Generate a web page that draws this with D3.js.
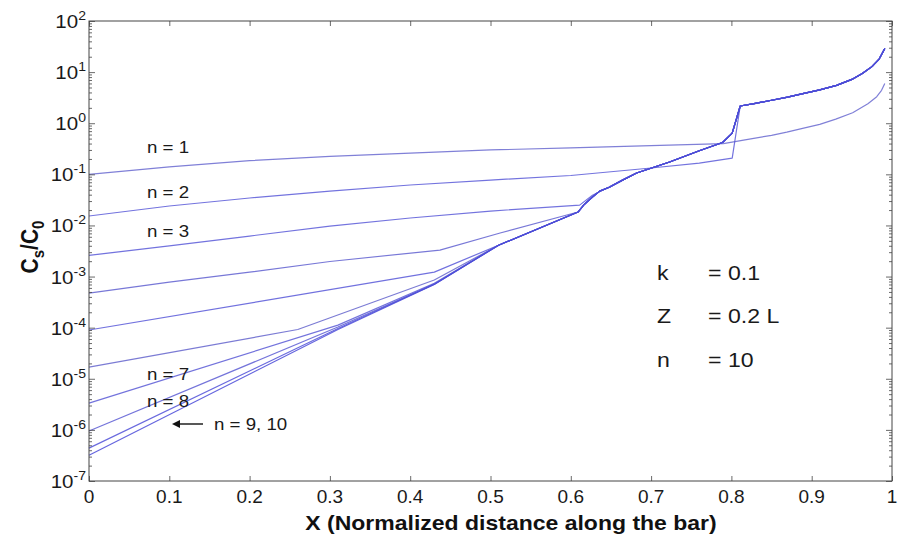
<!DOCTYPE html>
<html><head><meta charset="utf-8">
<script src="https://cdn.jsdelivr.net/npm/d3@7"></script>
<style>html,body{margin:0;padding:0;background:#fff;}svg{display:block;}</style>
</head><body>
<svg id="c" width="904" height="538"></svg>
<script>
// ---- data ----
const xTickValues = [0,0.1,0.2,0.3,0.4,0.5,0.6,0.7,0.8,0.9,1];
const xTickLabels = ["0","0.1","0.2","0.3","0.4","0.5","0.6","0.7","0.8","0.9","1"];
const yTickExponents = [-7,-6,-5,-4,-3,-2,-1,0,1,2];
const seriesNames = ["n = 1","n = 2","n = 3","n = 4","n = 5","n = 6","n = 7","n = 8","n = 9","n = 10"];

// common tail shared by the later passes
const ultimate = [[0.51,0.0041],[0.609,0.0183],[0.617,0.026],[0.627,0.036],[0.636,0.047],[0.648,0.056],[0.665,0.078],[0.682,0.106],[0.723,0.174],[0.76,0.29],[0.789,0.42],[0.801,0.64],[0.811,2.17],[0.83,2.45],[0.847,2.75],[0.87,3.25],[0.889,3.8],[0.91,4.5],[0.931,5.5],[0.95,7.2],[0.963,9.4],[0.975,12.8],[0.984,18],[0.991,29]];
const n1 = [[0,0.1],[0.1,0.14],[0.2,0.185],[0.3,0.225],[0.4,0.26],[0.5,0.30],[0.6,0.33],[0.7,0.365],[0.79,0.40],[0.826,0.5],[0.85,0.58],[0.869,0.67],[0.89,0.8],[0.91,0.95],[0.93,1.2],[0.951,1.6],[0.97,2.4],[0.981,3.3],[0.987,4.4],[0.991,6.0]];
const n2 = [[0,0.0153],[0.1,0.024],[0.2,0.0344],[0.3,0.0471],[0.4,0.0618],[0.5,0.0773],[0.6,0.0948],[0.7,0.133],[0.76,0.166],[0.801,0.208]];
const n3 = [[0,0.0026],[0.1,0.004],[0.2,0.0062],[0.3,0.0097],[0.4,0.014],[0.5,0.0191],[0.611,0.025],[0.627,0.039],[0.648,0.057]];
const n4 = [[0,0.000475],[0.1,0.00078],[0.2,0.00122],[0.3,0.00197],[0.437,0.0033],[0.512,0.0071],[0.609,0.0183]];
const n5 = [[0,9e-5],[0.43,0.00122]];
const n6 = [[0,1.69e-5],[0.26,9.2e-5],[0.43,0.000855]];
const n7 = [[0,3.34e-6],[0.31,0.000112],[0.43,0.00074]];
const n8 = [[0,9.5e-7],[0.31,0.000103],[0.43,0.00071]];
const n9 = [[0,4.4e-7],[0.31,9.6e-5],[0.43,0.00071]];
const n10 = [[0,3.2e-7],[0.31,9.2e-5],[0.43,0.0007]];
const heads = [n1,n2,n3,n4,n5,n6,n7,n8,n9,n10];
const params = [["k","= 0.1"],["Z","= 0.2 L"],["n","= 10"]];

// ---- layout ----
const svg = d3.select("#c");
const L=89, R=892, T=21, B=481;
const x = d3.scaleLinear().domain([0,1]).range([L,R]);
const y = d3.scaleLog().domain([1e-7,1e2]).range([B,T]);
const FONT = "'Liberation Sans', Arial, sans-serif";
const axisCol = "#444";

function txt(str, px, py, size, opts={}) {
  return svg.append("text")
    .attr("transform", `translate(${px},${py}) scale(${opts.sx||1.1},1)`)
    .attr("font-family", FONT).attr("font-size", size)
    .attr("fill", opts.fill||"#1a1a1a")
    .attr("font-weight", opts.weight||"normal")
    .attr("text-anchor", opts.anchor||"start")
    .text(str);
}

// curves
const curves = heads.map((h,i) => {
  if (i === 0) return h;
  const last = h[h.length-1][0];
  return h.concat(ultimate.filter(d => d[0] > last + 0.001));
});
const line = d3.line().x(d=>x(d[0])).y(d=>y(d[1]));
const colors = ["#6a6ad0","#5a5ad8","#5b5bd8","#6060d0","#5858d8","#6464cc","#5a5ad6","#5c5cd4","#5050d8","#4a4ad8"];
svg.append("g").selectAll("path").data(curves).join("path")
  .attr("d", line).attr("fill","none").attr("stroke-linejoin","round")
  .attr("stroke",(d,i)=>colors[i]).attr("stroke-width",1.2).attr("stroke-opacity",0.85);

// axes box
svg.append("rect").attr("x",L).attr("y",T).attr("width",R-L).attr("height",B-T)
  .attr("fill","none").attr("stroke",axisCol).attr("stroke-width",1);

// x ticks (inward, bottom & top)
svg.append("g").attr("transform",`translate(0,${B})`)
  .call(d3.axisBottom(x).tickValues(xTickValues).tickSize(-5).tickFormat(""));
svg.append("g").attr("transform",`translate(0,${T})`)
  .call(d3.axisTop(x).tickValues(xTickValues).tickSize(-5).tickFormat(""));
// y ticks major + minor
const minor = [];
yTickExponents.forEach(e => { if (e < 2) for (let m=2;m<=9;m++) minor.push(m*Math.pow(10,e)); });
const majors = yTickExponents.map(e=>Math.pow(10,e));
[[d3.axisLeft, L],[d3.axisRight, R]].forEach(([ax,pos])=>{
  svg.append("g").attr("transform",`translate(${pos},0)`)
    .call(ax(y).tickValues(majors).tickSize(-6).tickFormat(""));
  svg.append("g").attr("transform",`translate(${pos},0)`)
    .call(ax(y).tickValues(minor).tickSize(-3).tickFormat(""));
});
svg.selectAll(".domain").remove();
svg.selectAll(".tick line").attr("stroke",axisCol).attr("stroke-width",0.8);

// x tick labels
xTickValues.forEach((v,i)=> txt(xTickLabels[i], x(v), 503, 19, {anchor:"middle", sx:1.0}));
// y tick labels 10^e
yTickExponents.forEach(e=>{
  const py = y(Math.pow(10,e));
  const t = svg.append("text")
    .attr("transform",`translate(86,${py+7}) scale(1.08,1)`)
    .attr("font-family",FONT).attr("font-size",19).attr("fill","#1a1a1a")
    .attr("text-anchor","end");
  t.append("tspan").text("10");
  t.append("tspan").attr("dy",-8).attr("font-size",13).text(String(e));
});

// axis titles
txt("X (Normalized distance along the bar)", 511, 530, 20, {anchor:"middle", weight:"bold", fill:"#111", sx:1.15});
const yl = svg.append("text")
  .attr("transform",`translate(38,247) rotate(-90) scale(1,1.1)`)
  .attr("font-family",FONT).attr("font-size",21).attr("font-weight","bold")
  .attr("fill","#111").attr("text-anchor","middle");
yl.append("tspan").text("C");
yl.append("tspan").attr("dy",5).attr("font-size",15).text("s");
yl.append("tspan").attr("dy",-5).text("/C");
yl.append("tspan").attr("dy",5).attr("font-size",15).text("0");

// curve labels
const labelPos = [[147,153,0],[147,198,1],[147,237,2],[147,380,6],[147,407,7]];
labelPos.forEach(([px,py,i])=> txt(seriesNames[i], px, py, 17));
txt("n = 9, 10", 214, 430, 17);
svg.append("line").attr("x1",203).attr("y1",424).attr("x2",174).attr("y2",424)
  .attr("stroke","#111").attr("stroke-width",1.4);
svg.append("path").attr("d","M172,424 L180,420 L180,428 Z").attr("fill","#111");

// parameters
const paramY = [280,323,367];
params.forEach((p,i)=>{
  txt(p[0], 657, paramY[i], 21);
  txt(p[1], 708, paramY[i], 21);
});
</script>
</body></html>
